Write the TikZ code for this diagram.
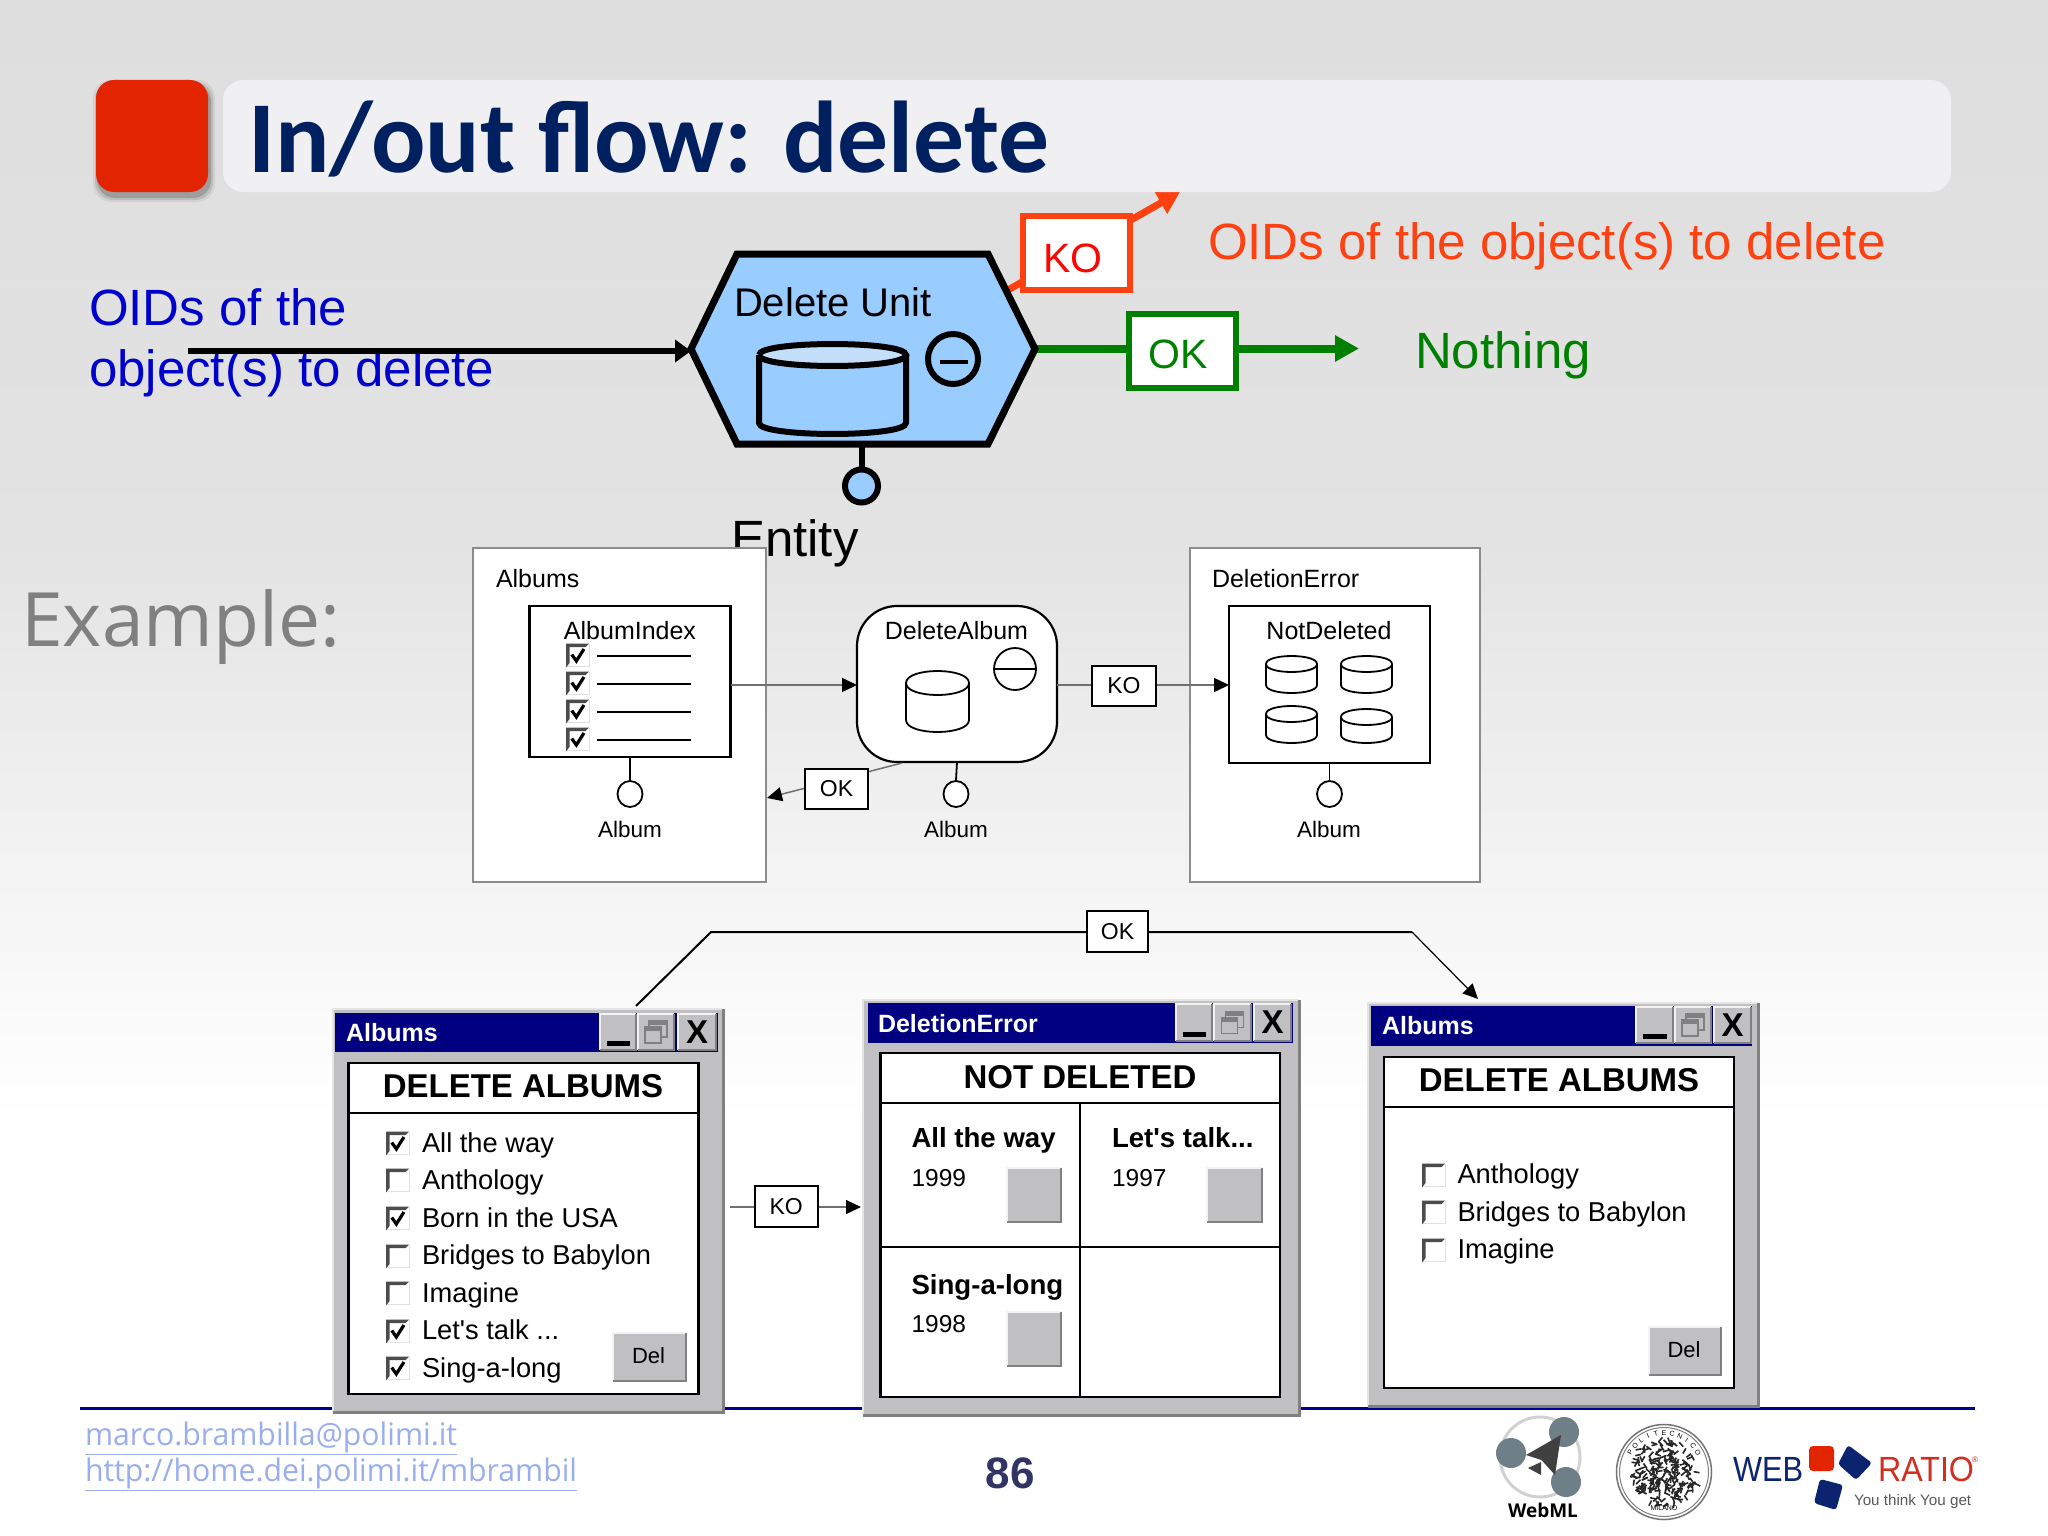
\documentclass[tikz,border=0pt]{standalone}
\usepackage{fontspec}
\setmainfont{Liberation Sans}
\newfontfamily\plainsans{Liberation Sans}
\newfontfamily\carl{Carlito}
\newfontfamily\opens{Open Sans}
\usetikzlibrary{arrows.meta,shapes.geometric}
\definecolor{navytitle}{HTML}{00205F}
\definecolor{redsq}{HTML}{E32400}
\definecolor{barfill}{HTML}{F0F0F2}
\definecolor{hexfill}{HTML}{99CCFF}
\definecolor{hextop}{HTML}{C4DFFA}
\definecolor{oidblue}{HTML}{0000CC}
\definecolor{koorange}{HTML}{FF4010}
\definecolor{okgreen}{HTML}{008000}
\definecolor{wingray}{HTML}{C0C0C2}
\definecolor{windark}{HTML}{808080}
\definecolor{winblue}{HTML}{000080}
\definecolor{linkgray}{HTML}{707070}
\definecolor{footline}{HTML}{000099}
\definecolor{footlink}{HTML}{9AAEEE}
\definecolor{pagenum}{HTML}{333366}
\definecolor{logogray}{HTML}{6F7F88}
\definecolor{logoblue}{HTML}{0A2470}
\definecolor{logored}{HTML}{D03020}
\newcommand\fs[1]{\fontsize{#1}{#1}\selectfont}
% boxed node given by its corners
\newcommand\nbox[7][]{\node[rectangle,inner sep=0pt,outer sep=0pt,minimum width={(#5-#3)*1pt},minimum height={(#6-#4)*1pt},#1] (#2) at ({(#3+#5)/2},{(#4+#6)/2}) {#7};}
% text on a baseline
\newcommand\lbl[5][]{\node[inner sep=0pt,outer sep=0pt,anchor=base west,#1] (#2) at (#3,#4) {#5};}
\newcommand\cyl[7]{% xl xr ytop ybot ry lw topfill
  \path[fill=#7] (#1,#3) .. controls (#1,{#3-1.33*#5}) and (#2,{#3-1.33*#5}) .. (#2,#3)
     .. controls (#2,{#3+1.33*#5}) and (#1,{#3+1.33*#5}) .. (#1,#3);
  \draw[line width=#6pt,line join=round] (#1,#3) -- (#1,#4) .. controls (#1,{#4+1.33*#5}) and (#2,{#4+1.33*#5}) .. (#2,#4) -- (#2,#3);
  \draw[line width=#6pt] (#1,#3) .. controls (#1,{#3-1.33*#5}) and (#2,{#3-1.33*#5}) .. (#2,#3)
     .. controls (#2,{#3+1.33*#5}) and (#1,{#3+1.33*#5}) .. (#1,#3);}
\newcommand\ckbase[3]{% x, ycentre, size
  \fill[white] (#1,{#2-#3/2}) rectangle ({#1+#3},{#2+#3/2});
  \draw[line width=1pt,black!12] ({#1+#3},{#2-#3/2}) -- ({#1+#3},{#2+#3/2}) -- (#1,{#2+#3/2});
  \fill[black!70] (#1,{#2+#3/2+1}) -- (#1,{#2-#3/2}) -- ({#1+#3},{#2-#3/2}) -- ({#1+#3-3.5},{#2-#3/2+3.5}) -- ({#1+3.5},{#2-#3/2+3.5}) -- ({#1+3.5},{#2+#3/2-3.5}) -- cycle;}
\newcommand\ckon[3]{\ckbase{#1}{#2}{#3}
  \draw[line width=3.2pt,miter limit=3] ({#1+.25*#3},{#2-.02*#3}) -- ({#1+.45*#3},{#2+.26*#3}) -- ({#1+.78*#3},{#2-.26*#3});}
\newcommand\bev[4]{% bevelled button
  \fill[wingray] (#1,#2) rectangle (#3,#4);
  \draw[line width=1.5pt,white!80!wingray] (#1,#4) -- (#1,#2) -- (#3,#2);
  \draw[line width=2pt,windark] (#1,#4) -- (#3,#4) -- (#3,#2);}
\newcommand\winframe[8]{% outer x1 y1 x2 y2, title x1 y1 x2 y2
  \fill[wingray] (#1,#2) rectangle (#3,#4);
  \draw[line width=2pt,black!10] (#1,#4) -- (#1,#2) -- (#3,#2);
  \draw[line width=3pt,windark] (#1,#4) -- (#3,#4) -- (#3,#2);
  \fill[winblue] (#5,#6) rectangle (#7,#8);}
\newcommand\minbtn[5]{\bev{#1}{#2}{#3}{#4}\fill ({#1+7},{#4-9}) rectangle ({#3-6},{#4-4});}
\newcommand\resbtn[5]{\bev{#1}{#2}{#3}{#4}
  \draw[line width=1.6pt,windark] ({(#1+#3)/2-7},{(#2+#4)/2-11}) rectangle ({(#1+#3)/2+11},{(#2+#4)/2+5});
  \fill[windark] ({(#1+#3)/2-7},{(#2+#4)/2-11}) rectangle ({(#1+#3)/2+11},{(#2+#4)/2-7});
  \path[fill=wingray,draw=windark,line width=1.6pt] ({(#1+#3)/2-11},{(#2+#4)/2-5}) rectangle ({(#1+#3)/2+5},{(#2+#4)/2+11});
  \fill[windark] ({(#1+#3)/2-11},{(#2+#4)/2-5}) rectangle ({(#1+#3)/2+5},{(#2+#4)/2-1});}
\newcommand\clsbtn[5]{\bev{#1}{#2}{#3}{#4}\node[inner sep=0pt,font=\bfseries\fs{33}] (#5) at ({(#1+#3)/2},{(#2+#4)/2}) {X};}
\tikzset{
  x=1pt,y=-1pt,
  hexline/.style={line width=7pt,line join=miter},
  thinarrow/.style={draw=linkgray,line width=1.5pt,-{Triangle[length=15pt,width=14pt,color=black]}},
  thinline/.style={draw=linkgray,line width=1.5pt},
  pagebox/.style={draw=black!45,fill=white,line width=1.5pt},
  unitbox/.style={draw=black,fill=white,line width=2.2pt},
  linkbox/.style={draw=black,fill=white,line width=2pt,font=\fs{23}},
  cname/.style={font=\fs{25},anchor=base},
  pin/.style={ellipse,draw=black,fill=white,line width=1.8pt,minimum width=25pt,minimum height=26pt,inner sep=0pt},
  stem/.style={line width=1.8pt},
  albumlbl/.style={font=\fs{22.5},anchor=base},
  wintitle/.style={font=\bfseries\fs{25},text=white},
  winhead/.style={font=\bfseries\fs{33},anchor=base},
  row/.style={font=\fs{27.3}},
  cellname/.style={font=\bfseries\fs{27.6}},
  cellyear/.style={font=\fs{24.5}},
  panel/.style={draw=black,fill=white,line width=2.5pt},
}
\begin{document}
\begin{tikzpicture}
\useasboundingbox (0,0) rectangle (2048,1536);
% background
\shade[top color=black!13,bottom color=black!11] (0,0) rectangle (2048,540);
\shade[top color=black!11,bottom color=black!2] (0,539) rectangle (2048,1000);
\shade[top color=black!2,bottom color=white] (0,999) rectangle (2048,1120);
\fill[white] (0,1119) rectangle (2048,1536);
% title
\foreach \d/\o in {4/.06,2/.10,0/.16}
  \fill[black,opacity=\o,rounded corners=18pt] ({97-\d},{84-\d}) rectangle ({211+\d},{198+\d});
\fill[redsq,rounded corners=18pt] (96,80) rectangle (208,192);
% output links of the unit
\coordinate (hexL) at (691,349);
\coordinate (hexR) at (1035,348.5);
\coordinate (hexKO) at (1008,290);
\coordinate (koEnd) at (1180,192);
\coordinate (okEnd) at (1359,348.5);
\coordinate (inStart) at (188,351);
\coordinate (inEnd) at (691,351);
\draw[koorange,line width=7pt,-{Triangle[length=22pt,width=24pt]}] (hexKO) -- (koEnd);
\fill[barfill,rounded corners=20pt] (223,80) rectangle (1951,192);
\lbl[font=\carl\bfseries\fs{102},text=navytitle,xscale=.995]{title}{248}{172}{In/out flow: delete}
% delete unit, large
\lbl[font=\fs{51},text=oidblue]{oidA}{89}{325}{OIDs of the}
\lbl[font=\fs{51},text=oidblue]{oidB}{89}{386}{object(s) to delete}
\draw[line width=6pt,-{Triangle[length=16pt,width=22pt]}] (inStart) -- (inEnd);
\draw[okgreen,line width=8pt,-{Triangle[length=24pt,width=25pt]}] (hexR) -- (okEnd);
\draw[hexline,fill=hexfill] (hexL) -- (737,254) -- (988,254) -- (1035,349) -- (988,444) -- (737,444) -- cycle;
\lbl[font=\fs{40},anchor=base]{delunit}{833}{316}{Delete Unit}
\cyl{759}{906}{355}{423}{11}{6}{hextop}
\node[circle,draw=black,fill=hexfill,line width=6pt,minimum size=50pt,inner sep=0pt] (minusbig) at (953,359) {};
\draw[line width=4pt] (940,362) -- (968,362);
\node[circle,draw=black,fill=hexfill,line width=6pt,minimum size=33pt,inner sep=0pt] (entpin) at (861.5,486) {};
\coordinate (hexB) at (861.5,444);
\draw[line width=6pt] (hexB) -- (entpin.north);
\lbl[font=\fs{51}]{entity}{731}{556}{Entity}
\nbox[draw=koorange,fill=white,line width=6pt]{kobig}{1023}{216}{1130}{290}{}
\lbl[font=\fs{41},anchor=base,text=red!92!koorange]{kotext}{1073}{272}{KO}
\nbox[draw=okgreen,fill=white,line width=6pt]{okbig}{1129}{314}{1236}{388}{}
\lbl[font=\fs{41},anchor=base,text=okgreen]{oktext}{1178}{368}{OK}
\lbl[font=\fs{51},text=koorange]{oidC}{1208}{259}{OIDs of the object(s) to delete}
\lbl[font=\fs{51},text=okgreen]{nothing}{1415}{368}{Nothing}
\lbl[font=\opens\fs{75},text=black!50]{example}{21}{646}{Example:}
% hypertext model
\nbox[pagebox]{pgalbums}{473}{548}{766}{882}{}
\nbox[pagebox]{pgerror}{1190}{548}{1480}{882}{}
\lbl[font=\fs{25}]{albumslbl}{496}{587}{Albums}
\lbl[font=\fs{25}]{errorlbl}{1212}{587}{DeletionError}
\nbox[unitbox]{albidx}{529.5}{606}{730.5}{757}{}
\lbl[cname]{albidxt}{630}{639}{AlbumIndex}
\foreach \i/\y in {1/655,2/683,3/711,4/739}{
  \ckon{566}{\y}{23}
  \draw[line width=2pt] (597,{\y+1}) -- (691,{\y+1});
}
\nbox[draw=black,fill=white,line width=2.2pt,rounded corners=40pt]{delalb}{857}{606}{1057}{762}{}
\lbl[cname]{delalbt}{956.5}{639}{DeleteAlbum}
\cyl{906}{969}{683}{720}{12}{1.8}{white}
\node[ellipse,draw=black,fill=white,line width=1.8pt,minimum width=42pt,minimum height=42pt,inner sep=0pt] (minussm) at (1015,669) {};
\draw[line width=2.2pt] (minussm.west) -- (minussm.east);
\nbox[unitbox]{notdel}{1229}{606}{1430}{763}{}
\lbl[cname]{notdelt}{1329}{639}{NotDeleted}
\cyl{1266}{1317}{664}{685}{8}{1.8}{white}
\cyl{1341}{1392}{664}{685}{8}{1.8}{white}
\cyl{1266}{1317}{714}{735}{8}{1.8}{white}
\cyl{1341}{1392}{717}{735}{8}{1.8}{white}
\node[pin] (pinA) at (630,794) {};
\node[pin] (pinB) at (956,794) {};
\node[pin] (pinC) at (1329.5,794) {};
\draw[stem] (albidx.south) -- (pinA.north);
\draw[stem] (delalb.south) -- (pinB.north);
\draw[stem] (notdel.south) -- (pinC.north);
\lbl[albumlbl]{albA}{630}{837}{Album}
\lbl[albumlbl]{albB}{956}{837}{Album}
\lbl[albumlbl]{albC}{1329}{837}{Album}
\coordinate (toDel) at (857,685);
\coordinate (fromIdx) at (731,685);
\coordinate (fromDel) at (1057,685);
\coordinate (toNot) at (1229,685);
\coordinate (okDelStart) at (902,763);
\coordinate (okDelEnd) at (767,798);
\draw[thinarrow] (fromIdx) -- (toDel);
\draw[thinarrow] (fromDel) -- (toNot);
\draw[thinarrow] (okDelStart) -- (okDelEnd);
\nbox[linkbox]{komid}{1092}{666}{1156}{706}{KO}
\nbox[linkbox]{okmid}{805}{769}{868}{809}{OK}
% link between page sketches
\coordinate (wStart) at (636,1006);
\coordinate (wA) at (711,932);
\coordinate (wB) at (1412,932);
\coordinate (wEnd) at (1478,999);
\draw[line width=2pt] (wStart) -- (wA) -- (wB);
\draw[line width=1.2pt,-{Triangle[length=15pt,width=14pt]}] (wB) -- (wEnd);
\nbox[linkbox]{oklong}{1087}{911}{1148}{952}{OK}
% footer
\coordinate (footL) at (80,1408);
\coordinate (footR) at (1975,1408);
\draw[footline,line width=3pt] (footL) -- (footR);
\lbl[font=\opens\fs{31},xscale=.975,text=footlink]{mail}{85}{1445}{\underline{marco.brambilla@polimi.it}}
\lbl[font=\opens\fs{31},xscale=.975,text=footlink]{web}{85}{1481}{\underline{http://home.dei.polimi.it/mbrambil}}
\lbl[font=\bfseries\fs{44},anchor=base,text=pagenum]{pagen}{1010}{1488}{86}
% window 1
\winframe{333}{1009}{723}{1412}{335}{1013}{717.5}{1052}
\lbl[wintitle]{w1t}{346}{1041}{Albums}
\minbtn{600}{1014}{636}{1050}{w1a}
\resbtn{638}{1014}{674}{1050}{w1b}
\clsbtn{678}{1014}{716}{1050}{w1c}
\nbox[panel]{w1p}{348.5}{1063}{698.5}{1394}{}
\draw[line width=2.5pt] (w1p.west |- 0,1113) -- (w1p.east |- 0,1113);
\lbl[winhead]{w1h}{523}{1097}{DELETE ALBUMS}
\ckon{386}{1143}{23}
\ckbase{386}{1180}{23}
\ckon{386}{1218}{23}
\ckbase{386}{1256}{23}
\ckbase{386}{1293}{23}
\ckon{386}{1331}{23}
\ckon{386}{1368}{23}
\lbl[row]{w1r1}{422}{1152}{All the way}
\lbl[row]{w1r2}{422}{1189}{Anthology}
\lbl[row]{w1r3}{422}{1227}{Born in the USA}
\lbl[row]{w1r4}{422}{1264}{Bridges to Babylon}
\lbl[row]{w1r5}{422}{1302}{Imagine}
\lbl[row]{w1r6}{422}{1339}{\plainsans Let's talk ...}
\lbl[row]{w1r7}{422}{1377}{Sing-a-long}
\bev{613}{1333}{686}{1381}
\node[inner sep=0pt,font=\fs{22}] (w1del) at (648.5,1356) {Del};
% KO between windows
\coordinate (koA) at (730,1207);
\coordinate (koB) at (861,1207);
\draw[thinarrow,line width=1.2pt] (koA) -- (koB);
\nbox[linkbox]{kolow}{755}{1186}{817.5}{1227}{KO}
% window 2
\winframe{863}{1000}{1299}{1415}{868}{1003}{1293}{1043}
\lbl[wintitle]{w2t}{878}{1032}{DeletionError}
\minbtn{1176}{1004}{1212}{1041}{w2a}
\resbtn{1214}{1004}{1251}{1041}{w2b}
\clsbtn{1254}{1004}{1291}{1041}{w2c}
\nbox[panel]{w2p}{880.5}{1053}{1280}{1397}{}
\draw[line width=2.5pt] (880.5,1103) -- (1280,1103);
\draw[line width=2.5pt] (880.5,1247) -- (1280,1247);
\draw[line width=2.5pt] (1080,1103) -- (1080,1397);
\lbl[winhead]{w2h}{1080}{1088}{NOT DELETED}
\lbl[cellname]{c1n}{911.5}{1147}{All the way}
\lbl[cellyear]{c1y}{911.5}{1186}{1999}
\bev{1007}{1168}{1061}{1222}
\lbl[cellname]{c2n}{1112}{1147}{\plainsans Let's talk...}
\lbl[cellyear]{c2y}{1112}{1186}{1997}
\bev{1207}{1168}{1262}{1222}
\lbl[cellname]{c3n}{911.5}{1294}{Sing-a-long}
\lbl[cellyear]{c3y}{911.5}{1332}{1998}
\bev{1007}{1312}{1061}{1366}
% window 3
\winframe{1368}{1003}{1758}{1406}{1371}{1006}{1752}{1046}
\lbl[wintitle]{w3t}{1382}{1034}{Albums}
\minbtn{1636}{1007}{1673}{1043}{w3a}
\resbtn{1675}{1007}{1711}{1043}{w3b}
\clsbtn{1714}{1007}{1751}{1043}{w3c}
\nbox[panel]{w3p}{1384}{1057}{1734}{1388}{}
\draw[line width=2.5pt] (1384,1107) -- (1734,1107);
\lbl[winhead]{w3h}{1559}{1091}{DELETE ALBUMS}
\ckbase{1422}{1175}{23}
\ckbase{1422}{1212}{23}
\ckbase{1422}{1250}{23}
\lbl[row]{w3r1}{1457.5}{1183}{Anthology}
\lbl[row]{w3r2}{1457.5}{1221}{Bridges to Babylon}
\lbl[row]{w3r3}{1457.5}{1258}{Imagine}
\bev{1649}{1327}{1721}{1375}
\node[inner sep=0pt,font=\fs{22}] (w3del) at (1684,1350) {Del};
% WebML logo
\draw[black!18,line width=3pt] (1540,1457) circle[radius=40pt];
\fill[logogray] (1564,1432) circle[radius=15pt];
\fill[logogray] (1511,1453) circle[radius=15pt];
\fill[logogray] (1566,1482) circle[radius=15pt];
\fill[black!75] (1561,1435) -- (1526,1455) -- (1541.5,1460) -- (1555,1475) -- cycle;
\fill[black!75] (1541,1462) -- (1528,1468) -- (1541,1475) -- cycle;
\lbl[font=\opens\bfseries\fs{19},anchor=base]{webml}{1543}{1517}{WebML}
% Politecnico seal
\draw[black!55,line width=1.5pt] (1664,1472) circle[radius=47.5pt];
\draw[black!50,line width=1pt] (1664,1472) circle[radius=44.5pt];
\pgfmathsetseed{7}
\foreach \i in {1,...,230}{
  \pgfmathsetmacro\ra{33*sqrt(rnd)}
  \pgfmathsetmacro\an{360*rnd}
  \pgfmathsetmacro\dr{360*rnd}
  \draw[black!85,line width=1.6pt] ({1664+\ra*cos(\an)},{1472+\ra*sin(\an)}) -- ++({6*cos(\dr)},{6*sin(\dr)});
}
\foreach \c [count=\i] in {P,O,L,I,T,E,C,N,I,C,O}{
  \pgfmathsetmacro\an{150-(\i-1)*12}
  \node[inner sep=0pt,font=\fs{7},rotate={\an-90}] (seal\i) at ({1664+39*cos(\an)},{1472-39*sin(\an)}) {\c};
}
\lbl[font=\fs{7},anchor=base]{milano}{1664}{1510}{MILANO}
% WebRatio logo
\lbl[font=\fs{35},text=logoblue,xscale=.88]{logoweb}{1733}{1481}{WEB}
\lbl[font=\fs{35},text=logored,xscale=.92]{logoratio}{1878}{1481}{RATIO}
\lbl[font=\fs{8},text=logored]{logoreg}{1972}{1462}{®}
\lbl[font=\fs{15.2},text=black!65]{logoyou}{1854}{1505}{You think You get}
\fill[redsq,rounded corners=4pt] (1809,1446) rectangle (1834,1471);
\fill[logoblue,rounded corners=3pt] (1848,1445) -- (1872,1463) -- (1856,1480) -- (1838,1464) -- cycle;
\fill[logoblue,rounded corners=3pt] (1820,1479) -- (1843,1485) -- (1836,1510) -- (1814,1503) -- cycle;
\end{tikzpicture}
\end{document}
